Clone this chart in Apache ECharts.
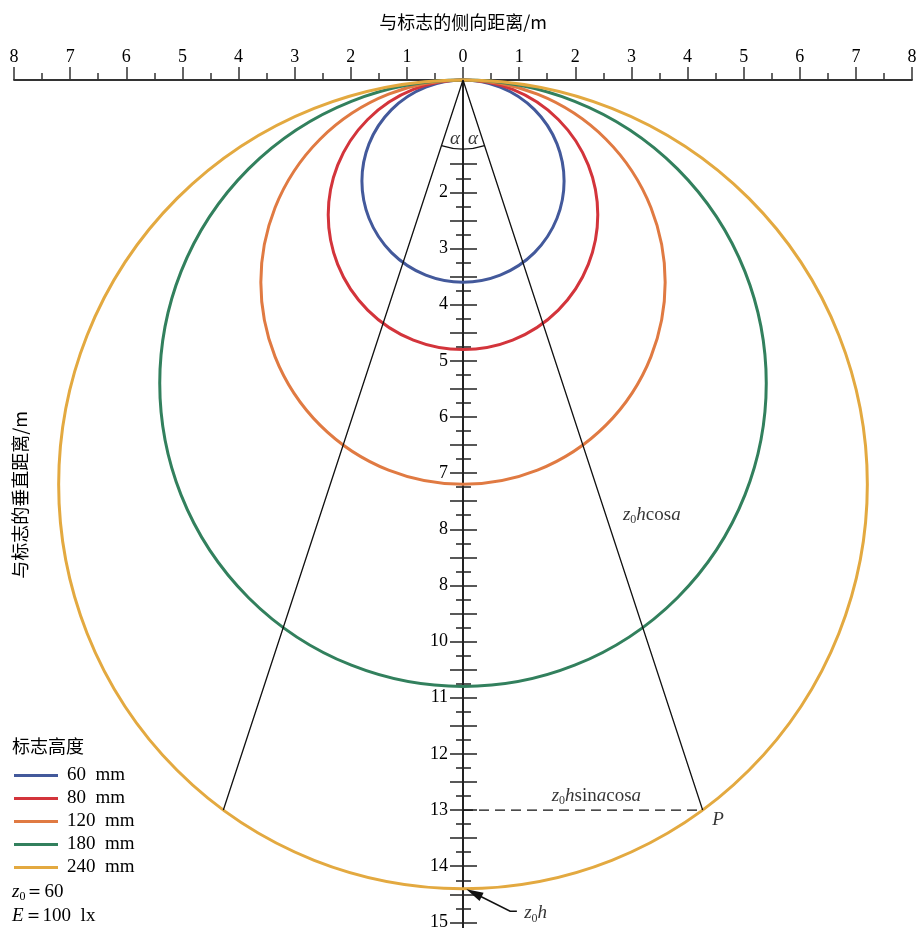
<!DOCTYPE html>
<html>
<head>
<meta charset="utf-8">
<script src="https://cdn.jsdelivr.net/npm/echarts@6/dist/echarts.min.js"></script>
<style>
  html, body { margin: 0; padding: 0; background: #fff; }
  #chart { width: 919px; height: 928px; }
</style>
</head>
<body>
<div id="chart"></div>
<script>
const SERIF = '"Liberation Serif", "DejaVu Serif", serif';
const CJK = '"Noto Sans CJK SC", sans-serif';

// sign heights (legend) and the circle diameters z0*h in metres
const signHeights = ['60  mm', '80  mm', '120  mm', '180  mm', '240  mm'];
const diameters = [3.6, 4.8, 7.2, 10.8, 14.4];
const colors = ['#43599b', '#d3343b', '#e07a42', '#32805d', '#e3a940'];

// vertical axis ticks / labels (the picture prints "8" twice)
const yLabelValues = [2, 3, 4, 5, 6, 7, 8, 9, 10, 11, 12, 13, 14, 15];
const yLabelTexts = ['2', '3', '4', '5', '6', '7', '8', '8', '10', '11', '12', '13', '14', '15'];
const yLongTicks = [1.5, 2, 2.5, 3, 3.5, 4, 4.5, 5, 5.5, 6, 6.5, 7, 7.5, 8, 8.5, 9, 9.5,
  10, 10.5, 11, 11.5, 12, 12.5, 13, 13.5, 14, 14.5, 15];
const yShortTicks = [1.75, 2.25, 2.75, 3.25, 3.75, 4.25, 4.75, 5.25, 5.75, 6.25, 6.75, 7.25,
  7.75, 8.25, 8.75, 9.25, 9.75, 10.25, 10.75, 11.25, 11.75, 12.25, 12.75, 13.25, 13.75,
  14.25, 14.75];

// construction lines
const alphaLines = [[-4.27, 13], [0, 0], [4.27, 13]];
const offsetLine = [[0, 13], [4.27, 13]];
const alphaArcRadius = 1.23;
const arrowPath = [[0.96, 14.8], [0.84, 14.8], [0.06, 14.41]];

const rich = {
  i: { fontFamily: SERIF, fontStyle: 'italic', fontSize: 19, lineHeight: 22, color: '#000' },
  r: { fontFamily: SERIF, fontSize: 19, lineHeight: 22, color: '#000' },
  s: { fontFamily: SERIF, fontSize: 12, lineHeight: 11, verticalAlign: 'bottom', color: '#000' }
};

const notes = [
  { value: [-0.23, 1.05], text: '{i|α}' },
  { value: [0.09, 1.05], text: '{i|α}' },
  { value: [2.85, 7.75], text: '{i|z}{s|0}{i|h}{r|cos}{i|a}' },
  { value: [1.58, 12.75], text: '{i|z}{s|0}{i|h}{r|sin}{i|a}{r|cos}{i|a}' },
  { value: [4.44, 13.18], text: '{i|P}' },
  { value: [1.09, 14.84], text: '{i|z}{s|0}{i|h}' }
];

const GRID_LEFT = 14, GRID_RIGHT = 7, CHART_W = 919;
const zeroOffset = -((CHART_W - GRID_LEFT - GRID_RIGHT) / 2);

function yAxisWith(ticks, len, inside, withLabels) {
  return {
    type: 'value', min: 0, max: 15.1, inverse: true, position: 'left', offset: zeroOffset,
    axisLine: { show: true, onZero: false, lineStyle: { color: '#222', width: 1.5 } },
    axisTick: { show: true, inside: inside, length: len, customValues: ticks,
      lineStyle: { color: '#222', width: 1.5 } },
    axisLabel: {
      show: withLabels, customValues: yLabelValues, margin: 15,
      fontFamily: SERIF, fontSize: 18, color: '#000',
      formatter: (v) => yLabelTexts[yLabelValues.indexOf(v)]
    },
    splitLine: { show: false }
  };
}

const chart = echarts.init(document.getElementById('chart'));

const circleSeries = diameters.map((d, i) => ({
  type: 'custom',
  name: signHeights[i],
  itemStyle: { color: colors[i] },
  data: [[0, d / 2, d / 2]],
  encode: { x: 0, y: 1 },
  silent: true,
  renderItem: (params, api) => {
    const c = api.coord([api.value(0), api.value(1)]);
    const r = api.size([0, api.value(2)])[1];
    return {
      type: 'circle',
      shape: { cx: c[0], cy: c[1], r: r },
      style: { fill: 'none', stroke: colors[i], lineWidth: 3 }
    };
  }
}));

chart.setOption({
  animation: false,
  grid: { left: GRID_LEFT, right: GRID_RIGHT, top: 80, bottom: 0,
    containLabel: false, outerBoundsMode: 'none' },
  xAxis: {
    type: 'value', position: 'top', min: -8, max: 8, interval: 1,
    axisLine: { onZero: false, lineStyle: { color: '#333', width: 1.8 } },
    axisTick: { length: 13, lineStyle: { color: '#333', width: 1.5 } },
    minorTick: { show: true, splitNumber: 2, length: 7, lineStyle: { color: '#333', width: 1.5 } },
    axisLabel: { formatter: (v) => String(Math.abs(v)), margin: 14,
      fontFamily: SERIF, fontSize: 18, color: '#000' },
    splitLine: { show: false }
  },
  yAxis: [
    yAxisWith(yLongTicks, 13, false, true),
    yAxisWith(yLongTicks, 14, true, false),
    yAxisWith(yShortTicks, 7, false, false),
    yAxisWith(yShortTicks, 8, true, false)
  ],
  legend: {
    orient: 'vertical', left: 9, top: 760, itemWidth: 44, itemHeight: 3, itemGap: 2,
    icon: 'rect', selectedMode: false,
    data: signHeights.map((n, i) => ({ name: n, itemStyle: { color: colors[i] } })),
    textStyle: { fontFamily: SERIF, fontSize: 19, color: '#000', lineHeight: 21,
      padding: [0, 0, 0, 4] }
  },
  graphic: [
    { type: 'text', x: 463, y: 22,
      style: { text: '与标志的侧向距离/m', font: '18px ' + CJK, fill: '#000',
        align: 'center', verticalAlign: 'middle' } },
    { type: 'text', x: 20, y: 495, rotation: Math.PI / 2,
      style: { text: '与标志的垂直距离/m', font: '18px ' + CJK, fill: '#000',
        align: 'center', verticalAlign: 'middle' } },
    { type: 'text', x: 12, y: 746,
      style: { text: '标志高度', font: '18px ' + CJK, fill: '#000',
        align: 'left', verticalAlign: 'middle' } },
    { type: 'text', x: 12, y: 892,
      style: { text: '{i|z}{s|0}{r|＝60}', rich: rich, align: 'left', verticalAlign: 'middle' } },
    { type: 'text', x: 12, y: 916,
      style: { text: '{i|E}{r|＝100  lx}', rich: rich, align: 'left', verticalAlign: 'middle' } }
  ],
  series: [
    ...circleSeries,
    {
      type: 'line', name: 'alpha', data: alphaLines, symbol: 'none', silent: true,
      lineStyle: { color: '#111', width: 1.3 }, z: 3
    },
    {
      type: 'line', name: 'offset', data: offsetLine, symbol: 'none', silent: true,
      lineStyle: { color: '#111', width: 1.3, type: [10, 6] }, z: 3
    },
    {
      type: 'custom', name: 'arc', data: [[0, 0, alphaArcRadius]], silent: true, z: 3,
      encode: { x: 0, y: 1 },
      renderItem: (params, api) => {
        const o = api.coord([api.value(0), api.value(1)]);
        const r = api.size([0, api.value(2)])[1];
        const pR = api.coord(alphaLines[2]);
        const pL = api.coord(alphaLines[0]);
        return {
          type: 'arc',
          shape: { cx: o[0], cy: o[1], r: r,
            startAngle: Math.atan2(pR[1] - o[1], pR[0] - o[0]),
            endAngle: Math.atan2(pL[1] - o[1], pL[0] - o[0]), clockwise: true },
          style: { stroke: '#111', fill: null, lineWidth: 1.3 }
        };
      }
    },
    {
      // leader with arrow head pointing at z0h
      type: 'custom', name: 'arrow', data: [arrowPath[0]], silent: true, z: 5,
      encode: { x: 0, y: 1 },
      renderItem: (params, api) => {
        const pts = arrowPath.map((p) => api.coord(p));
        const tip = pts[pts.length - 1];
        const prev = pts[pts.length - 2];
        const dx = tip[0] - prev[0], dy = tip[1] - prev[1];
        const len = Math.hypot(dx, dy);
        const ux = dx / len, uy = dy / len;
        const headLen = 17, halfW = 4.5;
        const bx = tip[0] - ux * headLen, by = tip[1] - uy * headLen;
        const stem = pts.slice(0, -1).concat([[bx + ux * 2, by + uy * 2]]);
        return {
          type: 'group',
          children: [
            { type: 'polyline', shape: { points: stem },
              style: { stroke: '#111', fill: null, lineWidth: 1.5 } },
            { type: 'polygon',
              shape: { points: [tip, [bx - uy * halfW, by + ux * halfW],
                [bx + uy * halfW, by - ux * halfW]] },
              style: { fill: '#111', stroke: null } }
          ]
        };
      }
    },
    {
      type: 'scatter', name: 'notes', symbolSize: 0, silent: true, z: 4,
      data: notes.map((n) => ({
        value: n.value,
        label: { show: true, position: 'inside', align: 'left', verticalAlign: 'middle',
          color: '#000', textBorderWidth: 0, formatter: n.text, rich: rich }
      }))
    }
  ]
});
</script>
</body>
</html>
